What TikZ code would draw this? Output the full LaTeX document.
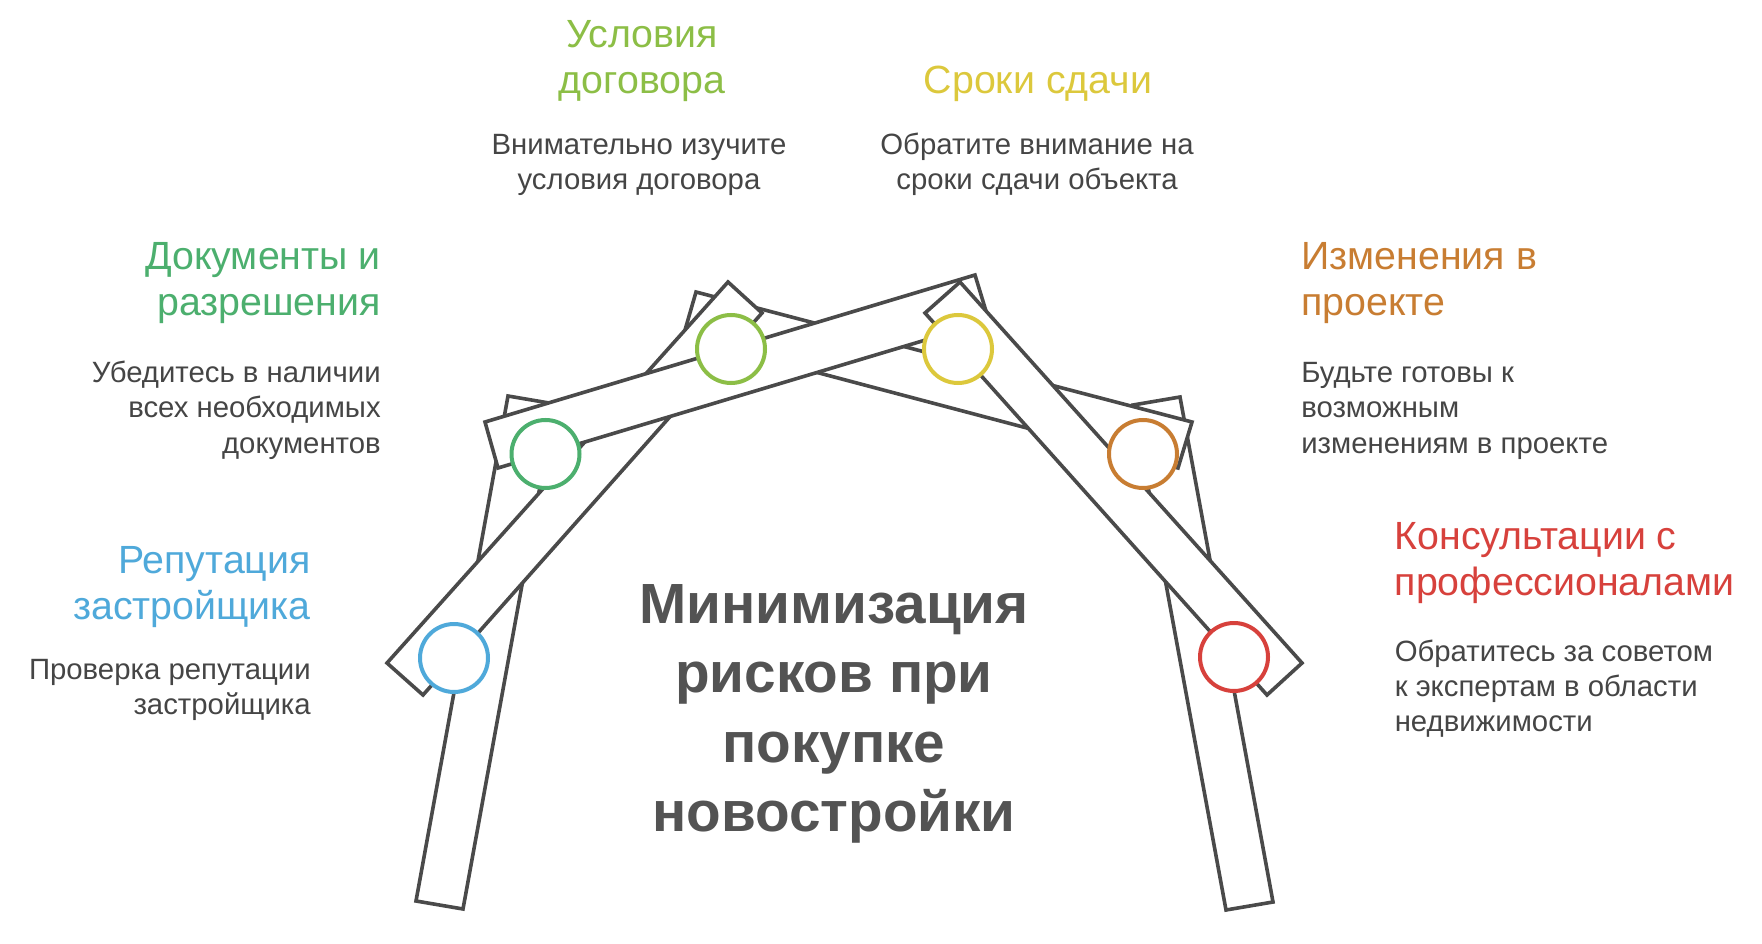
\documentclass[tikz,border=0pt]{standalone}
\usepackage{fontspec}
\setmainfont{Liberation Sans}
\definecolor{beamc}{HTML}{4A4A4A}
\definecolor{cblue}{HTML}{4FA9DA}
\definecolor{cgreen}{HTML}{4CAF6E}
\definecolor{clime}{HTML}{8CBE46}
\definecolor{cyellow}{HTML}{DCC83C}
\definecolor{corange}{HTML}{C87D32}
\definecolor{cred}{HTML}{D7413C}
\definecolor{desc}{HTML}{454545}
\definecolor{ctitle}{HTML}{535353}
\newcommand\ttlfnt{\fontsize{29.5}{35}\selectfont}
\newcommand\dscfnt{\fontsize{22}{27}\selectfont}
\newcommand\ctrfnt{\fontsize{42.5}{50}\selectfont\bfseries}
\begin{document}
\begin{tikzpicture}[x=0.75pt,y=-0.75pt,
  beam/.style={draw=beamc,fill=white,line width=2.7pt,line join=miter},
  joint/.style={circle,draw=#1,fill=white,line width=3pt,minimum size=51pt,inner sep=0pt},
  ttl/.style={font=\ttlfnt,text=#1,inner sep=0pt},
  dsc/.style={font=\dscfnt,text=desc,inner sep=0pt},
  ctr/.style={font=\ctrfnt,text=ctitle,inner sep=0pt,anchor=base}]
\useasboundingbox (0,0) rectangle (1762,944);
% beams (bottom to top)
\draw[beam] (416,901) -- (463,909) -- (555,404) -- (508,396) -- cycle;
\draw[beam] (1226,910) -- (1273,902) -- (1180,397) -- (1133,405) -- cycle;
\draw[beam] (696,292) -- (1192,422) -- (1178,468) -- (683,337) -- cycle;
\draw[beam] (387,663) -- (423,695) -- (762,313) -- (728,282) -- cycle;
\draw[beam] (485,422) -- (975,275) -- (989,321) -- (498,468) -- cycle;
\draw[beam] (925,313) -- (960,282) -- (1302,663) -- (1267,695) -- cycle;
% joints
\node[joint=cblue] (j1) at (454,658) {};
\node[joint=cgreen] (j2) at (545.5,454) {};
\node[joint=clime] (j3) at (731,349) {};
\node[joint=cyellow] (j4) at (958,349) {};
\node[joint=corange] (j5) at (1143,454) {};
\node[joint=cred] (j6) at (1234,657) {};
% top left block
\node[ttl=clime,anchor=base] (t1a) at (642,48) {Условия};
\node[ttl=clime,anchor=base] (t1b) at (642,94) {договора};
\node[dsc,anchor=base] (d1a) at (639,155) {Внимательно изучите};
\node[dsc,anchor=base] (d1b) at (639,190) {условия договора};
% top right block
\node[ttl=cyellow,anchor=base] (t2) at (1038,94) {Сроки сдачи};
\node[dsc,anchor=base] (d2a) at (1037,155) {Обратите внимание на};
\node[dsc,anchor=base] (d2b) at (1037,190) {сроки сдачи объекта};
% left middle
\node[ttl=cgreen,anchor=base east] (t3a) at (381,270) {Документы и};
\node[ttl=cgreen,anchor=base east] (t3b) at (381,316) {разрешения};
\node[dsc,anchor=base east] (d3a) at (381,383) {Убедитесь в наличии};
\node[dsc,anchor=base east] (d3b) at (381,418) {всех необходимых};
\node[dsc,anchor=base east] (d3c) at (381,453) {документов};
% right middle
\node[ttl=corange,anchor=base west] (t4a) at (1301,270) {Изменения в};
\node[ttl=corange,anchor=base west] (t4b) at (1301,316) {проекте};
\node[dsc,anchor=base west] (d4a) at (1301,383) {Будьте готовы к};
\node[dsc,anchor=base west] (d4b) at (1301,418) {возможным};
\node[dsc,anchor=base west] (d4c) at (1301,453) {изменениям в проекте};
% left bottom
\node[ttl=cblue,anchor=base east] (t5a) at (311,573) {Репутация};
\node[ttl=cblue,anchor=base east] (t5b) at (311,619) {застройщика};
\node[dsc,anchor=base east] (d5a) at (311,679) {Проверка репутации};
\node[dsc,anchor=base east] (d5b) at (311,714) {застройщика};
% right bottom
\node[ttl=cred,anchor=base west] (t6a) at (1394.5,549) {Консультации с};
\node[ttl=cred,anchor=base west] (t6b) at (1394.5,595) {профессионалами};
\node[dsc,anchor=base west] (d6a) at (1394.5,661) {Обратитесь за советом};
\node[dsc,anchor=base west] (d6b) at (1394.5,696) {к экспертам в области};
\node[dsc,anchor=base west] (d6c) at (1394.5,731) {недвижимости};
% centre title
\node[ctr] (c1) at (834,623) {Минимизация};
\node[ctr] (c2) at (834,692.5) {рисков при};
\node[ctr] (c3) at (834,762) {покупке};
\node[ctr] (c4) at (834,831) {новостройки};
\end{tikzpicture}
\end{document}
